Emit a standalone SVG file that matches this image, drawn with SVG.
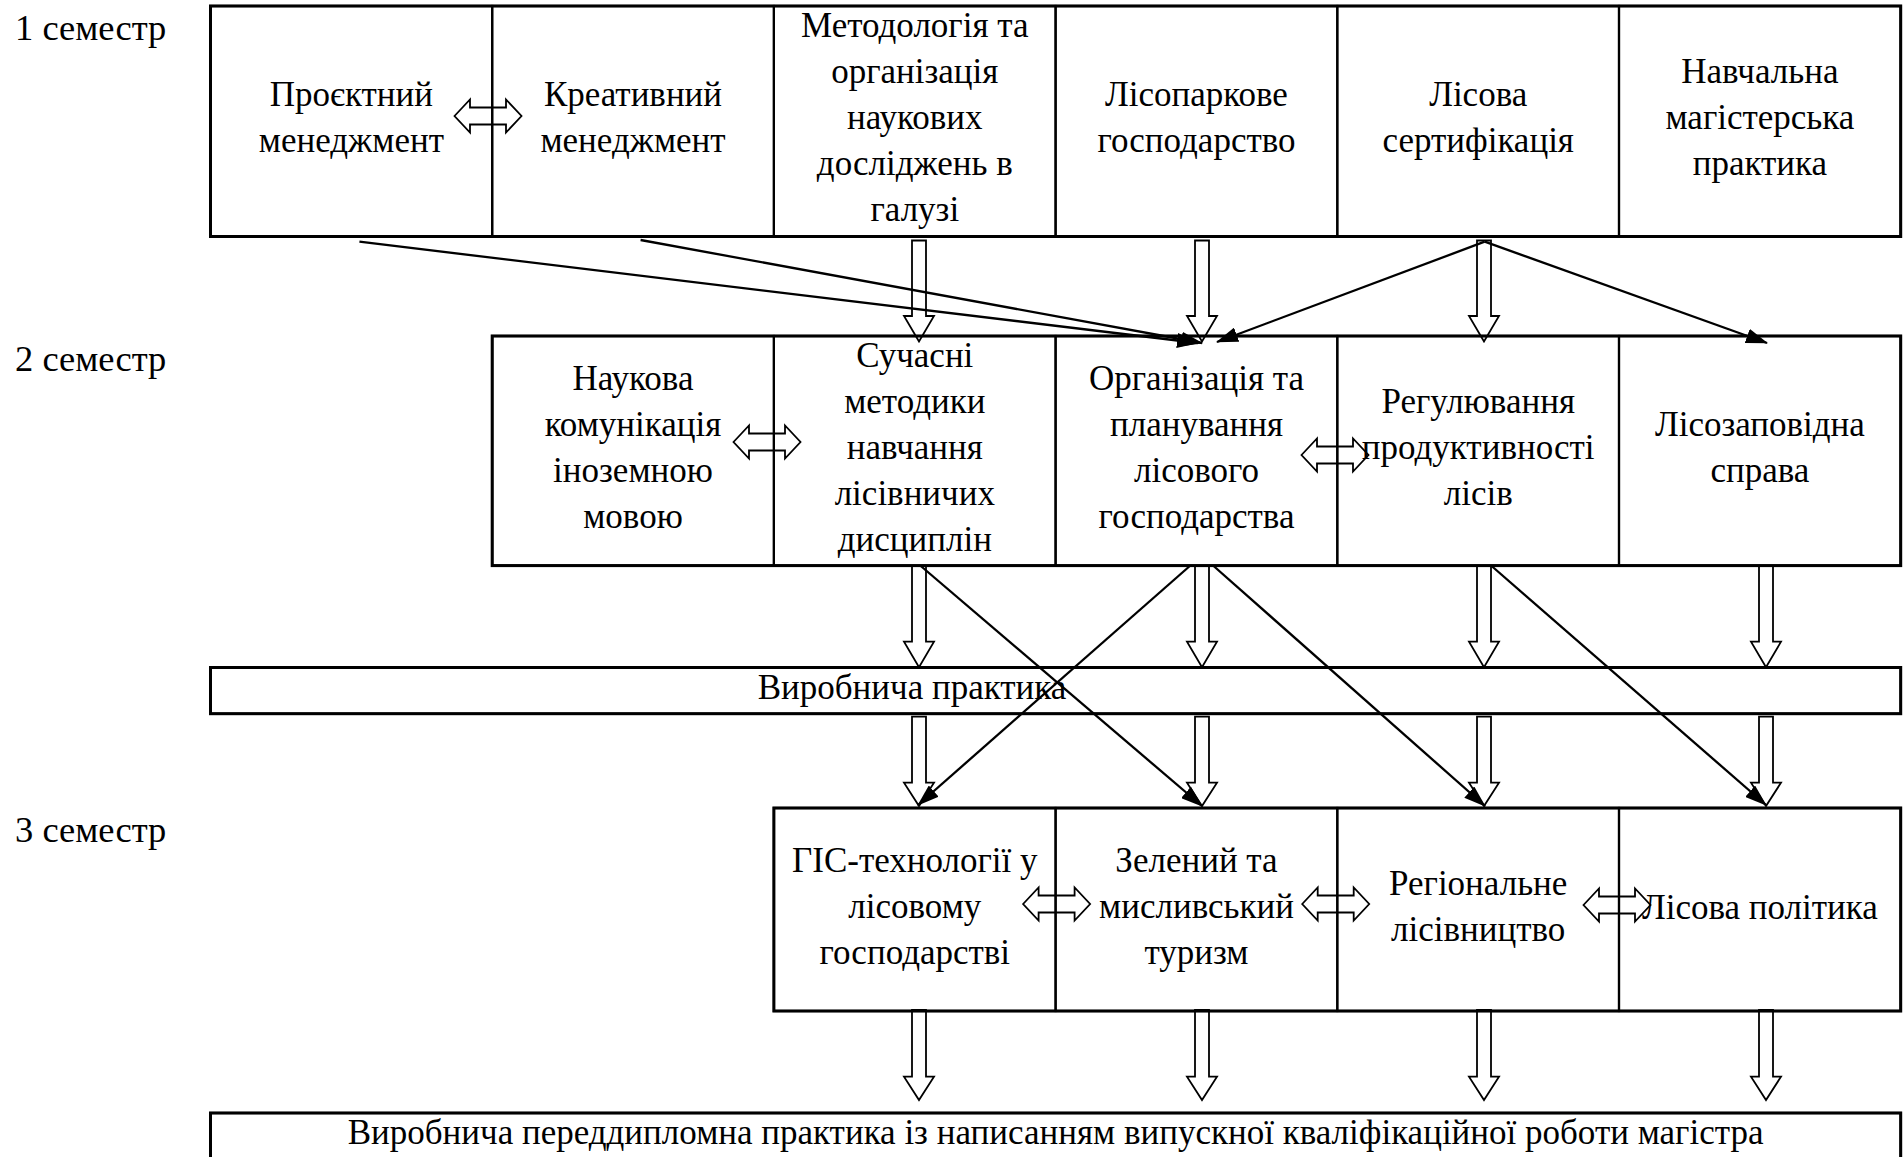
<svg xmlns="http://www.w3.org/2000/svg" xmlns:xlink="http://www.w3.org/1999/xlink" width="1903" height="1157" viewBox="0 0 1903 1157">
<style>
text{font-family:"Liberation Serif","Times New Roman",serif;font-size:35px;fill:#000;text-anchor:middle}
.lbl{text-anchor:start;font-size:36.5px}
.cell{fill:none;stroke:#000;stroke-width:2.2}
.frame{fill:none;stroke:#000;stroke-width:3}
.blk{fill:none;stroke:#000;stroke-width:1.8;stroke-linejoin:miter}
.ln{fill:none;stroke:#000;stroke-width:2.3}
</style>
<defs>
<marker id="ah" markerUnits="userSpaceOnUse" markerWidth="22" markerHeight="15" refX="21" refY="7.5" orient="auto">
<path d="M0,0 L22,7.5 L0,15 Z" fill="#000"/>
</marker>
<path id="dbl" d="M-33.5,0 L-18,-16.5 L-18,-8.5 L18,-8.5 L18,-16.5 L33.5,0 L18,16.5 L18,8.5 L-18,8.5 L-18,16.5 Z"/>
</defs>
<rect width="1903" height="1157" fill="#fff"/>

<g id="semesters">
<text class="lbl" x="15" y="40">1 семестр</text>
<text class="lbl" x="15" y="371">2 семестр</text>
<text class="lbl" x="15" y="842">3 семестр</text>
</g>

<g id="frames">
<rect class="frame" x="210.5" y="6" width="1690.2" height="230.5"/>
<rect class="frame" x="492.2" y="336" width="1408.5" height="229.6"/>
<rect class="frame" x="210.5" y="667.5" width="1690.2" height="46.2"/>
<rect class="frame" x="773.9" y="808" width="1126.8" height="203"/>
<rect class="frame" x="210.5" y="1113" width="1690.2" height="60"/>
</g>

<g id="n-proekt"><rect class="cell" x="210.5" y="6" width="281.7" height="230.5"/>
<text x="351.4" y="105.5">Проєктний</text><text x="351.4" y="151.5">менеджмент</text></g>
<g id="n-kreat"><rect class="cell" x="492.2" y="6" width="281.7" height="230.5"/>
<text x="633" y="105.5">Креативний</text><text x="633" y="151.5">менеджмент</text></g>
<g id="n-metod"><rect class="cell" x="773.9" y="6" width="281.7" height="230.5"/>
<text x="914.8" y="36.5">Методологія та</text><text x="914.8" y="82.5">організація</text><text x="914.8" y="128.5">наукових</text><text x="914.8" y="174.5">досліджень в</text><text x="914.8" y="220.5">галузі</text></g>
<g id="n-lisopark"><rect class="cell" x="1055.6" y="6" width="281.7" height="230.5"/>
<text x="1196.5" y="105.5">Лісопаркове</text><text x="1196.5" y="151.5">господарство</text></g>
<g id="n-sert"><rect class="cell" x="1337.3" y="6" width="281.7" height="230.5"/>
<text x="1478.2" y="105.5">Лісова</text><text x="1478.2" y="151.5">сертифікація</text></g>
<g id="n-navch"><rect class="cell" x="1619" y="6" width="281.7" height="230.5"/>
<text x="1759.9" y="82.5">Навчальна</text><text x="1759.9" y="128.5">магістерська</text><text x="1759.9" y="174.5">практика</text></g>

<g id="n-nauk"><rect class="cell" x="492.2" y="336" width="281.7" height="229.6"/>
<text x="633" y="390">Наукова</text><text x="633" y="436">комунікація</text><text x="633" y="482">іноземною</text><text x="633" y="528">мовою</text></g>
<g id="n-suchasni"><rect class="cell" x="773.9" y="336" width="281.7" height="229.6"/>
<text x="914.8" y="367">Сучасні</text><text x="914.8" y="413">методики</text><text x="914.8" y="459">навчання</text><text x="914.8" y="505">лісівничих</text><text x="914.8" y="551">дисциплін</text></g>
<g id="n-org"><rect class="cell" x="1055.6" y="336" width="281.7" height="229.6"/>
<text x="1196.5" y="390">Організація та</text><text x="1196.5" y="436">планування</text><text x="1196.5" y="482">лісового</text><text x="1196.5" y="528">господарства</text></g>
<g id="n-reg"><rect class="cell" x="1337.3" y="336" width="281.7" height="229.6"/>
<text x="1478.2" y="413">Регулювання</text><text x="1478.2" y="459">продуктивності</text><text x="1478.2" y="505">лісів</text></g>
<g id="n-zapov"><rect class="cell" x="1619" y="336" width="281.7" height="229.6"/>
<text x="1759.9" y="436">Лісозаповідна</text><text x="1759.9" y="482">справа</text></g>

<g id="n-vyrob"><rect class="cell" x="210.5" y="667.5" width="1690.2" height="46.2"/>
<text x="912" y="699">Виробнича практика</text></g>

<g id="n-gis"><rect class="cell" x="773.9" y="808" width="281.7" height="203"/>
<text x="914.8" y="872">ГІС-технології у</text><text x="914.8" y="918">лісовому</text><text x="914.8" y="964">господарстві</text></g>
<g id="n-zel"><rect class="cell" x="1055.6" y="808" width="281.7" height="203"/>
<text x="1196.5" y="872">Зелений та</text><text x="1196.5" y="918">мисливський</text><text x="1196.5" y="964">туризм</text></g>
<g id="n-region"><rect class="cell" x="1337.3" y="808" width="281.7" height="203"/>
<text x="1478.2" y="895">Регіональне</text><text x="1478.2" y="941">лісівництво</text></g>
<g id="n-polit"><rect class="cell" x="1619" y="808" width="281.7" height="203"/>
<text x="1759.9" y="919">Лісова політика</text></g>

<g id="n-peredd"><rect class="cell" x="210.5" y="1113" width="1690.2" height="60"/>
<text x="1055.6" y="1144">Виробнича переддипломна практика із написанням випускної кваліфікаційної роботи магістра</text></g>

<g id="connectors">
<g id="block-arrows">
<path class="blk" d="M912,240.5 L926,240.5 L926,316 L934,316 L919,341.5 L904,316 L912,316 Z"/>
<path class="blk" d="M1195,240.5 L1209,240.5 L1209,316 L1217,316 L1202,341.5 L1187,316 L1195,316 Z"/>
<path class="blk" d="M1477,240.5 L1491,240.5 L1491,316 L1499,316 L1484,341.5 L1469,316 L1477,316 Z"/>

<path class="blk" d="M912,566 L926,566 L926,641.7 L934,641.7 L919,667.3 L904,641.7 L912,641.7 Z"/>
<path class="blk" d="M1195,566 L1209,566 L1209,641.7 L1217,641.7 L1202,667.3 L1187,641.7 L1195,641.7 Z"/>
<path class="blk" d="M1477,566 L1491,566 L1491,641.7 L1499,641.7 L1484,667.3 L1469,641.7 L1477,641.7 Z"/>
<path class="blk" d="M1759,566 L1773,566 L1773,641.7 L1781,641.7 L1766,667.3 L1751,641.7 L1759,641.7 Z"/>

<path class="blk" d="M912,716.7 L926,716.7 L926,782.7 L934,782.7 L919,806 L904,782.7 L912,782.7 Z"/>
<path class="blk" d="M1195,716.7 L1209,716.7 L1209,782.7 L1217,782.7 L1202,806 L1187,782.7 L1195,782.7 Z"/>
<path class="blk" d="M1477,716.7 L1491,716.7 L1491,782.7 L1499,782.7 L1484,806 L1469,782.7 L1477,782.7 Z"/>
<path class="blk" d="M1759,716.7 L1773,716.7 L1773,782.7 L1781,782.7 L1766,806 L1751,782.7 L1759,782.7 Z"/>

<path class="blk" d="M912,1010 L926,1010 L926,1076.7 L934,1076.7 L919,1100 L904,1076.7 L912,1076.7 Z"/>
<path class="blk" d="M1195,1010 L1209,1010 L1209,1076.7 L1217,1076.7 L1202,1100 L1187,1076.7 L1195,1076.7 Z"/>
<path class="blk" d="M1477,1010 L1491,1010 L1491,1076.7 L1499,1076.7 L1484,1100 L1469,1076.7 L1477,1076.7 Z"/>
<path class="blk" d="M1759,1010 L1773,1010 L1773,1076.7 L1781,1076.7 L1766,1100 L1751,1076.7 L1759,1076.7 Z"/>
</g>
<g id="double-arrows">
<use class="blk" xlink:href="#dbl" href="#dbl" x="488" y="116"/>
<use class="blk" xlink:href="#dbl" href="#dbl" x="767" y="442"/>
<use class="blk" xlink:href="#dbl" href="#dbl" x="1335" y="455"/>
<use class="blk" xlink:href="#dbl" href="#dbl" x="1056.6" y="904"/>
<use class="blk" xlink:href="#dbl" href="#dbl" x="1335.7" y="904"/>
<use class="blk" xlink:href="#dbl" href="#dbl" x="1617" y="905"/>
</g>
<g id="lines">
<line class="ln" x1="359.4" y1="241.7" x2="1198" y2="343" marker-end="url(#ah)"/>
<line class="ln" x1="640.6" y1="240" x2="1202" y2="343" marker-end="url(#ah)"/>
<line class="ln" x1="1484.7" y1="241.7" x2="1217" y2="342" marker-end="url(#ah)"/>
<line class="ln" x1="1484.7" y1="241.7" x2="1767" y2="343" marker-end="url(#ah)"/>
<line class="ln" x1="920.8" y1="566" x2="1202" y2="806" marker-end="url(#ah)"/>
<line class="ln" x1="1189.8" y1="566" x2="918" y2="805" marker-end="url(#ah)"/>
<line class="ln" x1="1213.6" y1="566" x2="1485" y2="806" marker-end="url(#ah)"/>
<line class="ln" x1="1491.6" y1="566" x2="1766" y2="805" marker-end="url(#ah)"/>
</g>
</g>
</svg>
